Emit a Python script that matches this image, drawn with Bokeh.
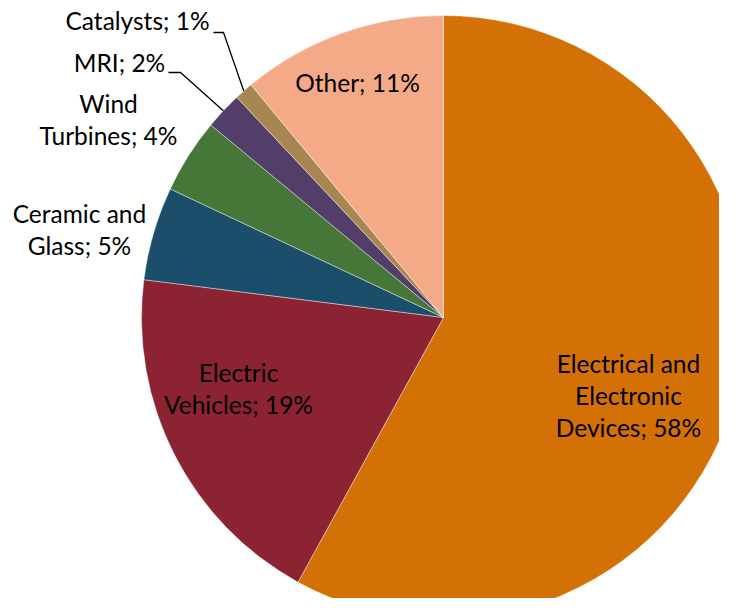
import numpy as np
from bokeh.plotting import figure
from bokeh.models import Range1d, ColumnDataSource
from bokeh.core.properties import value
from bokeh.embed import file_html
from bokeh.resources import INLINE

# ---- data ----
categories = ["Electrical and Electronic Devices", "Electric Vehicles", "Ceramic and Glass",
              "Wind Turbines", "MRI", "Catalysts", "Other"]
shares = [58, 19, 5, 4, 2, 1, 11]
wrapped_names = ["Electrical and\nElectronic\nDevices", "Electric\nVehicles", "Ceramic and\nGlass",
                 "Wind\nTurbines", "MRI", "Catalysts", "Other"]
colors = ["#D47106", "#8B2332", "#1B4E6B", "#467638", "#523E69", "#A88651", "#F4AA86"]

# ---- layout (picture pixel coordinates) ----
W, H = 719, 598
def X(px): return px
def Y(py): return H - py

cx, cy, R = X(443), Y(317), 302
label_pos = {  # text block centers
    "Electrical and Electronic Devices": (628, 395),
    "Electric Vehicles": (238, 388),
    "Ceramic and Glass": (79, 229),
    "Wind Turbines": (108, 119),
    "MRI": (119, 62),
    "Catalysts": (137, 20),
    "Other": (357, 82),
}
leaders = {"Catalysts": [(213, 32), (223, 32)], "MRI": [(168, 72), (180, 72)]}

total = float(sum(shares))
cum = np.concatenate([[0], np.cumsum(shares)]) / total
start = np.pi / 2 - 2 * np.pi * cum[:-1]
end = np.pi / 2 - 2 * np.pi * cum[1:]
mid = (start + end) / 2

src = ColumnDataSource(dict(start=start, end=end, color=colors, name=categories))

p = figure(width=W, height=H, x_range=Range1d(0, W), y_range=Range1d(0, H),
           output_backend="svg", toolbar_location=None, min_border=0,
           x_axis_location=None, y_axis_location=None, outline_line_color=None)
p.grid.visible = False

p.wedge(x=cx, y=cy, radius=R, start_angle="start", end_angle="end", direction="clock",
        fill_color="color", line_color="white", line_width=0.6, line_alpha=0.7, source=src)

texts = [f"{n}; {s}%" for n, s in zip(wrapped_names, shares)]
lx = [X(label_pos[c][0]) for c in categories]
ly = [Y(label_pos[c][1]) for c in categories]
p.text(x=lx, y=ly, text=texts, text_align="center", text_baseline="middle",
       text_font=value("Lato"), text_font_size="24.5px", text_color="#000000",
       text_line_height=1.1)

for c, pts in leaders.items():
    i = categories.index(c)
    ex, ey = cx + R * np.cos(mid[i]), cy + R * np.sin(mid[i])
    xs = [X(pt[0]) for pt in pts] + [ex]
    ys = [Y(pt[1]) for pt in pts] + [ey]
    p.line(xs, ys, line_color="#000000", line_width=1.3)

open("out.html", "w").write(file_html(p, INLINE))
